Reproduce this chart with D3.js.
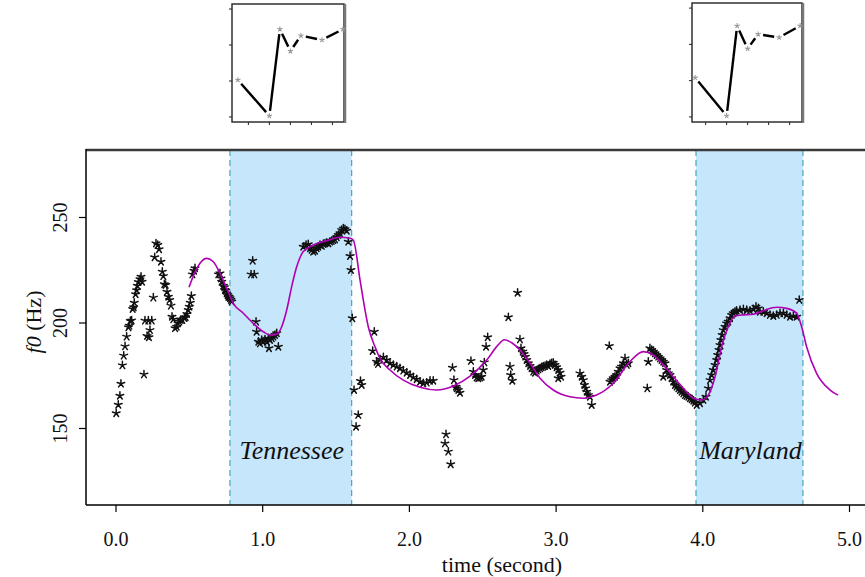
<!DOCTYPE html>
<html><head><meta charset="utf-8">
<script src="https://cdn.jsdelivr.net/npm/d3@7"></script>
<style>body{margin:0;background:#fff}svg{display:block}</style>
</head><body><svg id="c" width="865" height="577"></svg>
<script>
// ---- data ----
const xTicks = [0, 1, 2, 3, 4, 5];
const yTicks = [150, 200, 250];
const regionNames = ["Tennessee", "Maryland"];
const regionStart = [0.78, 3.957];
const regionEnd = [1.61, 4.686];

const pitchTime = [0.005,0.019,0.030,0.037,0.047,0.056,0.065,0.076,0.088,0.094,0.101,0.110,0.117,0.124,0.128,0.137,0.144,0.149,0.156,0.167,0.174,0.181,0.194,0.201,0.215,0.224,0.228,0.235,0.247,0.258,0.267,0.276,0.288,0.297,0.310,0.319,0.326,0.333,0.342,0.351,0.360,0.369,0.378,0.385,0.394,0.406,0.417,0.426,0.435,0.444,0.455,0.469,0.478,0.487,0.496,0.503,0.510,0.517,0.524,0.535,0.542,
0.701,0.712,0.719,0.724,0.735,0.742,0.746,0.751,0.758,0.765,0.769,0.774,0.781,0.787,0.792,
0.924,0.935,0.946,0.958,0.962,0.974,0.985,0.997,1.008,1.019,1.031,1.042,1.046,1.053,1.065,1.076,1.087,1.099,1.110,
1.280,1.299,1.314,1.326,1.337,1.348,1.360,1.371,1.382,1.394,1.406,1.417,1.428,1.440,1.451,1.462,1.474,1.485,1.496,1.508,1.519,1.530,1.542,1.553,1.564,1.576,1.587,1.599,1.605,1.614,
1.626,1.640,1.655,1.670,1.678,
1.753,1.764,1.780,1.790,1.803,1.826,1.849,1.871,1.894,1.917,1.939,1.962,1.985,2.008,2.030,2.053,2.076,2.098,2.121,2.144,2.166,
2.246,2.253,2.269,2.285,
2.297,2.307,2.321,2.326,2.337,2.348,
2.423,2.439,2.451,2.462,2.473,2.485,2.496,2.507,2.514,2.526,2.537,
2.678,2.689,2.694,2.705,2.741,2.757,2.764,2.776,2.785,2.794,2.803,2.814,2.826,2.837,2.848,2.860,2.871,2.882,2.894,2.905,2.916,2.928,2.939,2.950,2.962,2.973,2.984,2.996,3.007,3.018,3.018,3.030,3.037,
3.166,3.178,3.189,3.196,3.205,3.212,3.223,3.234,3.246,
3.366,3.371,3.382,3.393,3.405,3.416,3.427,3.439,3.450,3.462,3.473,3.485,3.496,
3.625,3.632,3.643,3.655,3.666,3.678,3.689,3.700,3.712,3.723,3.734,3.734,3.746,3.757,3.768,3.780,3.791,3.802,3.814,3.825,3.837,3.848,3.859,3.871,3.882,3.893,3.905,3.916,3.928,3.939,3.950,3.962,3.984,4.007,4.025,4.041,4.053,4.064,4.075,4.087,4.098,4.105,4.114,4.121,4.127,4.136,4.143,4.155,4.166,4.177,4.189,4.200,4.211,4.223,4.234,4.257,4.280,4.303,4.325,4.348,4.366,4.382,4.393,4.416,4.439,4.461,4.484,4.507,4.530,4.553,4.575,4.598,4.621,4.643,4.661];

const pitchHz = [157.0,161.0,165.3,171.0,179.7,184.3,188.7,193.3,197.7,198.5,200.7,201.0,206.4,207.2,209.4,213.4,215.3,217.4,219.2,220.5,221.7,219.3,175.4,200.9,193.6,200.9,193.0,196.4,200.9,211.8,230.9,237.5,236.7,234.7,228.8,224.1,222.0,218.1,217.8,214.6,212.2,210.7,208.0,202.7,201.5,197.3,198.0,199.6,200.4,201.2,201.2,202.1,202.5,204.0,205.9,207.5,209.4,212.6,222.8,224.5,225.7,
222.8,223.3,220.9,219.3,217.4,216.7,215.4,215.1,213.8,213.0,212.2,212.2,211.5,210.7,209.9,
222.8,229.3,222.8,200.4,195.6,190.9,190.1,191.7,190.9,192.0,190.9,192.5,187.8,191.7,192.5,193.3,194.1,194.9,188.5,
235.9,236.7,237.1,235.2,234.4,233.6,234.0,235.2,235.9,236.7,236.3,237.2,237.5,237.8,237.5,238.3,238.6,239.1,239.4,240.4,241.5,242.3,243.8,244.6,244.2,243.5,238.3,231.5,224.9,202.0,
168.0,150.6,156.2,172.3,170.4,
186.5,195.6,181.4,180.4,182.6,183.5,182.2,180.7,179.9,179.1,178.3,177.2,176.2,175.1,174.0,173.1,171.9,171.2,171.5,172.4,172.4,
142.7,147.0,138.8,132.8,
178.6,172.7,169.6,168.8,168.0,166.7,
181.8,176.7,175.1,173.9,173.6,173.9,174.3,177.5,181.1,188.5,193.0,
202.5,179.1,175.1,172.4,214.1,192.0,187.8,186.2,185.1,183.8,182.2,180.7,179.4,178.3,176.7,176.2,177.2,177.8,178.3,178.8,179.1,179.4,179.9,179.4,180.3,180.7,180.9,179.9,178.8,177.5,173.6,176.2,174.3,
175.9,174.3,172.7,170.4,168.8,167.2,165.6,164.8,160.9,
188.9,171.9,172.7,173.6,174.3,175.1,176.7,178.3,179.1,180.7,183.0,179.9,180.7,
168.8,181.4,187.8,187.0,186.2,185.4,184.6,183.8,183.0,182.2,181.4,174.3,180.7,177.5,175.9,175.1,173.6,171.9,170.4,169.6,168.8,168.0,167.2,166.4,165.6,165.2,164.8,164.1,163.6,162.9,162.0,160.9,161.7,163.3,164.8,168.8,172.7,175.1,177.5,179.9,182.2,184.6,187.0,189.3,191.7,194.1,196.4,198.0,199.6,200.4,202.0,203.6,204.4,205.1,205.6,205.9,206.3,205.9,205.6,206.3,207.5,206.7,205.1,205.1,204.4,203.6,203.1,203.6,204.4,204.4,203.6,202.7,203.1,202.7,210.7];

const fitTime = [0.501,0.540,0.576,0.622,0.667,0.712,0.758,0.803,0.871,0.939,1.008,1.053,1.099,1.133,1.167,1.201,1.235,1.280,1.348,1.440,1.530,1.599,1.621,1.667,1.689,1.723,1.769,1.803,1.871,1.962,2.076,2.190,2.303,2.417,2.530,2.610,2.650,2.701,2.757,2.826,2.894,2.984,3.098,3.189,3.280,3.393,3.507,3.598,3.666,3.734,3.802,3.871,3.939,3.996,4.041,4.087,4.132,4.177,4.223,4.280,4.348,4.416,4.507,4.575,4.643,4.677,4.711,4.779,4.871,4.925];
const fitHz = [216.7,223.5,228.1,230.4,228.8,223.3,216.2,209.1,204.4,199.6,195.6,194.1,194.5,198.0,205.9,217.0,226.4,233.6,236.7,238.8,240.4,239.9,239.1,220.1,210.7,198.0,188.5,183.0,177.5,172.7,169.3,168.0,169.9,174.6,182.2,189.5,191.8,190.4,187.0,180.7,173.6,168.0,164.8,164.1,165.6,171.2,181.5,186.2,184.6,179.9,174.3,168.8,164.1,163.3,165.6,174.3,188.5,198.0,203.1,203.6,203.9,205.6,207.2,206.7,204.4,198.0,188.5,175.9,168.0,165.6];

// inset contours (same word shape for both regions)
const insetX = [0.5, 2, 2.5, 3, 3.5, 4.5, 5.5];
const insetY1 = [1.03, 0.03, 2.44, 1.83, 2.26, 2.14, 2.44];
const insetY2 = [1.08, 0.03, 2.51, 1.88, 2.28, 2.19, 2.51];
const insetXTicks = [1, 2, 3, 4, 5];
const insetYTicks = [0, 1, 2, 3];

// ---- drawing ----
const svg = d3.select("#c");
const FONT = "'Liberation Serif','Times New Roman',serif";
const L = 86, T = 150, B = 505, R = 872;
const x = d3.scaleLinear().domain([0, 5]).range([115.5, 849]);
const y = d3.scaleLinear().domain([150, 250]).range([428, 217]);

// shaded regions
regionNames.forEach((name, i) => {
  const x0 = x(regionStart[i]), x1 = x(regionEnd[i]);
  svg.append("rect").attr("x", x0).attr("y", T).attr("width", x1 - x0).attr("height", B - T)
    .attr("fill", "#c6e6fb");
  [x0, x1].forEach(xx => svg.append("line").attr("x1", xx).attr("x2", xx).attr("y1", T).attr("y2", B)
    .attr("stroke", "#3a9fb3").attr("stroke-width", 1.1).attr("stroke-dasharray", "6,4"));
  svg.append("text").attr("x", (x0 + x1) / 2 + 1).attr("y", 459).attr("text-anchor", "middle")
    .attr("font-family", FONT).attr("font-style", "italic").attr("font-size", 26).attr("fill", "#111")
    .text(name);
});

// asterisk symbol
const asterisk = {
  draw(ctx, size) {
    const r = Math.sqrt(size) / 2;
    for (let k = 0; k < 5; k++) {
      const a = -Math.PI / 2 + k * 2 * Math.PI / 5;
      ctx.moveTo(0, 0);
      ctx.lineTo(r * Math.cos(a), r * Math.sin(a));
    }
  }
};
const starPath = d3.symbol().type(asterisk).size(64)();
const smallStar = d3.symbol().type(asterisk).size(30)();

svg.append("g").selectAll("path").data(pitchTime).join("path")
  .attr("d", starPath)
  .attr("transform", (d, i) => `translate(${x(d)},${y(pitchHz[i])})`)
  .attr("fill", "none").attr("stroke", "#111").attr("stroke-width", 1.5).attr("stroke-linecap", "round");

// fitted contour
const fitData = fitTime.map((t, i) => [t, fitHz[i]]);
svg.append("path").datum(fitData)
  .attr("d", d3.line().x(d => x(d[0])).y(d => y(d[1])).curve(d3.curveMonotoneX))
  .attr("fill", "none").attr("stroke", "#b000b4").attr("stroke-width", 1.6);

// frame
svg.append("line").attr("x1", L).attr("x2", R).attr("y1", T).attr("y2", T).attr("stroke", "#3a3a3a").attr("stroke-width", 2.5);
svg.append("line").attr("x1", L).attr("x2", L).attr("y1", T - 1).attr("y2", B).attr("stroke", "#000").attr("stroke-width", 1.5);
svg.append("line").attr("x1", L).attr("x2", R).attr("y1", B).attr("y2", B).attr("stroke", "#000").attr("stroke-width", 1.5);

// axes
const gx = svg.append("g").attr("transform", `translate(0,${B})`)
  .call(d3.axisBottom(x).tickValues(xTicks).tickFormat(d3.format(".1f")).tickSize(7).tickPadding(20));
gx.select(".domain").remove();
gx.selectAll("line").attr("stroke", "#000").attr("stroke-width", 1.2);
gx.selectAll("text").attr("font-family", FONT).attr("font-size", 20).attr("fill", "#111");

const gy = svg.append("g").attr("transform", `translate(${L},0)`)
  .call(d3.axisLeft(y).tickValues(yTicks).tickSize(7));
gy.select(".domain").remove();
gy.selectAll("line").attr("stroke", "#000").attr("stroke-width", 1.2);
gy.selectAll("text").attr("font-family", FONT).attr("font-size", 20).attr("fill", "#111")
  .attr("transform", "rotate(-90)").attr("x", 0).attr("y", -19).attr("dy", 0).attr("text-anchor", "middle");

svg.append("text").attr("x", 502).attr("y", 572).attr("text-anchor", "middle")
  .attr("font-family", FONT).attr("font-size", 22).attr("fill", "#111").text("time (second)");

const yl = svg.append("text").attr("transform", "translate(41,322) rotate(-90)").attr("text-anchor", "middle")
  .attr("font-family", FONT).attr("font-size", 22).attr("fill", "#111");
yl.append("tspan").attr("font-style", "italic").text("f0");
yl.append("tspan").text(" (Hz)");

// insets
function drawInset(x0, x1, y0, y1, xDom, yVals) {
  const ix = d3.scaleLinear().domain(xDom).range([x0, x1]);
  const iy = d3.scaleLinear().domain([-0.14, 3.14]).range([y1, y0]);
  const g = svg.append("g");
  g.append("rect").attr("x", x0).attr("y", y0).attr("width", x1 - x0).attr("height", y1 - y0)
    .attr("fill", "#fff").attr("stroke", "#222").attr("stroke-width", 1.4);
  g.append("line").attr("x1", x1 + 1).attr("x2", x1 + 1).attr("y1", y0).attr("y2", y1 + 1)
    .attr("stroke", "#777").attr("stroke-width", 2.5);
  insetYTicks.forEach(v => g.append("line").attr("x1", x0 - 3).attr("x2", x0).attr("y1", iy(v)).attr("y2", iy(v))
    .attr("stroke", "#222").attr("stroke-width", 1));
  insetXTicks.forEach(v => g.append("line").attr("x1", ix(v)).attr("x2", ix(v)).attr("y1", y1).attr("y2", y1 + 3)
    .attr("stroke", "#222").attr("stroke-width", 1));
  const pts = insetX.map((v, i) => [ix(v), iy(yVals[i])]);
  for (let i = 0; i < pts.length - 1; i++) {
    const [ax, ay] = pts[i], [bx, by] = pts[i + 1];
    const dx = bx - ax, dy = by - ay, len = Math.hypot(dx, dy), gap = 5;
    g.append("line").attr("x1", ax + dx / len * gap).attr("y1", ay + dy / len * gap)
      .attr("x2", bx - dx / len * gap).attr("y2", by - dy / len * gap)
      .attr("stroke", "#000").attr("stroke-width", 2.4);
  }
  g.selectAll("path.p").data(pts).join("path").attr("class", "p").attr("d", smallStar)
    .attr("transform", d => `translate(${d[0]},${d[1]})`)
    .attr("fill", "none").attr("stroke", "#999").attr("stroke-width", 1.1);
}
drawInset(232, 344, 4, 122, [0.22, 5.55], insetY1);
drawInset(692, 802, 3, 122, [0.35, 5.59], insetY2);
</script></body></html>
